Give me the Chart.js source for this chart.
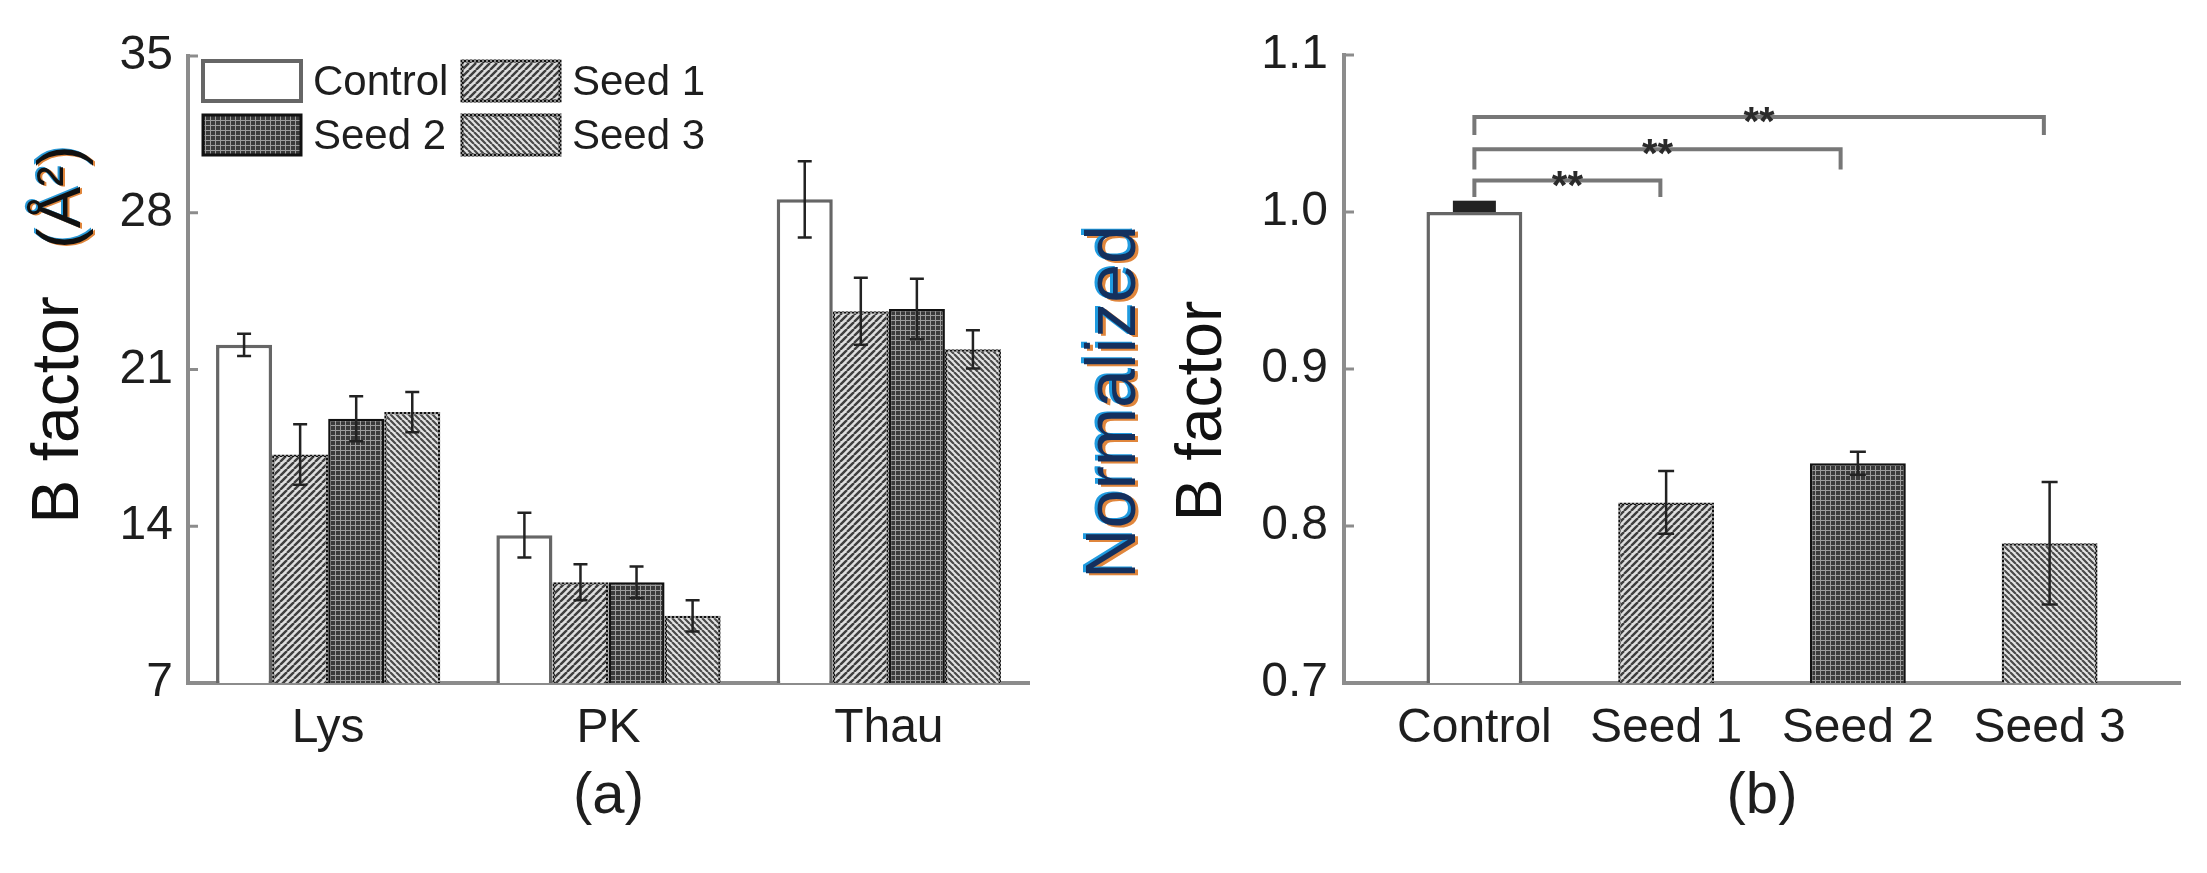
<!DOCTYPE html>
<html>
<head>
<meta charset="utf-8">
<title>B factor</title>
<script src="https://cdn.jsdelivr.net/npm/chart.js@4.4.1/dist/chart.umd.min.js"></script>
<style>
  html, body { margin: 0; padding: 0; background: #fff; }
  #wrap { position: relative; width: 2207px; height: 873px; overflow: hidden; }
  canvas { position: absolute; top: 0; }
</style>
</head>
<body>
<div id="wrap">
  <canvas id="chartA" width="1100" height="873" style="left:0px"></canvas>
  <canvas id="chartB" width="1157" height="873" style="left:1050px"></canvas>
</div>
<script>
// ---- data (a) ----
const proteins = ["Lys", "PK", "Thau"];
const groups = ["Control", "Seed 1", "Seed 2", "Seed 3"];
const controlB = [22.1, 13.6, 28.6];
const controlErr = [0.5, 1.0, 1.7];
const seed1B = [17.2, 11.5, 23.6];
const seed1Err = [1.35, 0.8, 1.5];
const seed2B = [18.8, 11.5, 23.7];
const seed2Err = [1.0, 0.7, 1.35];
const seed3B = [19.1, 10.0, 21.9];
const seed3Err = [0.9, 0.7, 0.85];
const ticksA = [7, 14, 21, 28, 35];

// ---- data (b) ----
const normB = [1.0, 0.815, 0.84, 0.789];
const normErr = [0.0036, 0.02, 0.0073, 0.039];
const ticksB = [0.7, 0.8, 0.9, 1.0, 1.1];
// significance brackets (group positions and heights)
const sigFrom = [0, 0, 0];
const sigTo = [0.97, 1.91, 2.97];
const sigTop = [1.020, 1.040, 1.0605];
const sigLeg = [1.0095, 1.027, 1.049];
const sigText = ["**", "**", "**"];

const FONT = "'Liberation Sans', Arial, Helvetica, sans-serif";
Chart.defaults.font.family = FONT;
Chart.defaults.color = "#1e1e1e";

// ---- fill patterns ----
function makeTile(size, paint) {
  const c = document.createElement("canvas");
  c.width = c.height = size;
  paint(c.getContext("2d"), size);
  return c;
}
function hatch(ctx, dir, bg, fg, size, lw) {
  const tile = makeTile(size, (g, s) => {
    g.fillStyle = bg; g.fillRect(0, 0, s, s);
    g.strokeStyle = fg; g.lineWidth = lw;
    g.beginPath();
    for (let k = -1; k <= 1; k++) {
      if (dir > 0) { g.moveTo(k * s, s); g.lineTo(k * s + s, 0); }
      else { g.moveTo(k * s, 0); g.lineTo(k * s + s, s); }
    }
    g.stroke();
  });
  return ctx.createPattern(tile, "repeat");
}
function gridFill(ctx, bg, fg, size) {
  const tile = makeTile(size, (g, s) => {
    g.fillStyle = bg; g.fillRect(0, 0, s, s);
    g.fillStyle = fg; g.fillRect(0, 0, s, 1); g.fillRect(0, 0, 1, s);
  });
  return ctx.createPattern(tile, "repeat");
}
function dotted(ctx) {
  const tile = makeTile(4, (g) => {
    g.fillStyle = "#8a8a8a"; g.fillRect(0, 0, 4, 4);
    g.fillStyle = "#111"; g.fillRect(0, 0, 2, 2); g.fillRect(2, 2, 2, 2);
  });
  return ctx.createPattern(tile, "repeat");
}
function styles(ctx) {
  return {
    bg: ["#ffffff",
         hatch(ctx, 1, "#dedede", "#3e3e3e", 7, 2.4),
         gridFill(ctx, "#3a3a3a", "#9c9c9c", 5),
         hatch(ctx, -1, "#e4e4e4", "#4a4a4a", 6, 2.2)],
    border: ["#666666", dotted(ctx), "#111111", dotted(ctx)],
    width: [3.5, 2.5, 2.5, 2.5]
  };
}

// ---- plugins ----
const errorBars = {
  id: "errorBars",
  afterDatasetsDraw(chart, args, o) {
    const ctx = chart.ctx, y = chart.scales.y;
    ctx.save();
    ctx.strokeStyle = o.color; ctx.fillStyle = o.color; ctx.lineWidth = o.lineWidth;
    chart.data.datasets.forEach((ds, i) => {
      chart.getDatasetMeta(i).data.forEach((bar, j) => {
        const raw = ds.data[j];
        const v = typeof raw === "object" ? raw.y : raw;
        const e = ds.errors[j];
        const yt = y.getPixelForValue(v + e), yb = y.getPixelForValue(v - e), yv = y.getPixelForValue(v);
        if (yb - yt < 16) {
          // caps merge into a solid block sitting on the bar
          const h = yb - yt;
          ctx.fillRect(bar.x - o.wideCap / 2, yv - h, o.wideCap, h);
          return;
        }
        const h = o.cap / 2;
        ctx.beginPath();
        ctx.moveTo(bar.x, yt); ctx.lineTo(bar.x, yb);
        ctx.moveTo(bar.x - h, yt); ctx.lineTo(bar.x + h, yt);
        ctx.moveTo(bar.x - h, yb); ctx.lineTo(bar.x + h, yb);
        ctx.stroke();
      });
    });
    ctx.restore();
  }
};

const innerTicks = {
  id: "innerTicks",
  afterDraw(chart, args, o) {
    const {ctx, chartArea} = chart, y = chart.scales.y;
    ctx.save();
    ctx.strokeStyle = o.color; ctx.lineWidth = o.width;
    y.ticks.forEach(t => {
      const py = y.getPixelForValue(t.value);
      if (Math.abs(py - chartArea.bottom) < 2) return;
      ctx.beginPath(); ctx.moveTo(chartArea.left, py); ctx.lineTo(chartArea.left + o.length, py); ctx.stroke();
    });
    ctx.restore();
  }
};

const sideTitles = {
  id: "sideTitles",
  afterDraw(chart, args, o) {
    const ctx = chart.ctx;
    o.items.forEach(it => {
      ctx.save();
      ctx.translate(it.x, it.y);
      ctx.rotate(-Math.PI / 2);
      ctx.font = it.font;
      ctx.textAlign = "center"; ctx.textBaseline = "middle";
      (it.fringe || []).forEach(f => {
        ctx.fillStyle = f.color;
        // offsets given in page space; rotated frame swaps axes
        ctx.fillText(it.text, -f.dy, f.dx);
      });
      ctx.fillStyle = it.color;
      ctx.fillText(it.text, 0, 0);
      ctx.restore();
    });
  }
};

const boxLegend = {
  id: "boxLegend",
  afterDraw(chart, args, o) {
    const {ctx, chartArea} = chart;
    ctx.save();
    chart.data.datasets.forEach((ds, i) => {
      const col = i % 2, row = Math.floor(i / 2);
      const bx = chartArea.left + o.x + col * o.colW;
      const by = chartArea.top + o.y + row * o.rowH;
      ctx.fillStyle = ds.backgroundColor;
      ctx.fillRect(bx, by, o.boxW, o.boxH);
      ctx.strokeStyle = ds.borderColor; ctx.lineWidth = ds.borderWidth + 0.5;
      ctx.strokeRect(bx, by, o.boxW, o.boxH);
      ctx.fillStyle = "#1e1e1e";
      ctx.font = o.font;
      ctx.textAlign = "left"; ctx.textBaseline = "middle";
      ctx.fillText(ds.label, bx + o.boxW + o.gap, by + o.boxH / 2 + 2);
    });
    ctx.restore();
  }
};

const sigBrackets = {
  id: "sigBrackets",
  afterDraw(chart, args, o) {
    const {ctx} = chart, x = chart.scales.x, y = chart.scales.y;
    ctx.save();
    sigTop.forEach((t, i) => {
      const x0 = x.getPixelForValue(sigFrom[i]), x1 = x.getPixelForValue(sigTo[i]);
      const yt = y.getPixelForValue(t), yl = y.getPixelForValue(sigLeg[i]);
      ctx.strokeStyle = o.color; ctx.lineWidth = o.lineWidth;
      ctx.beginPath();
      ctx.moveTo(x0, yl); ctx.lineTo(x0, yt); ctx.lineTo(x1, yt); ctx.lineTo(x1, yl);
      ctx.stroke();
      ctx.fillStyle = "#2a2a2a";
      ctx.font = o.font;
      ctx.textAlign = "center"; ctx.textBaseline = "alphabetic";
      ctx.fillText(sigText[i], (x0 + x1) / 2, yt + o.starDrop);
    });
    ctx.restore();
  }
};

const axisBorder = { display: true, color: "#8c8c8c", width: 4 };

// ---- chart (a) ----
const ctxA = document.getElementById("chartA").getContext("2d");
const stA = styles(ctxA);
const seriesA = [controlB, seed1B, seed2B, seed3B];
const errA = [controlErr, seed1Err, seed2Err, seed3Err];

new Chart(ctxA, {
  type: "bar",
  data: {
    labels: proteins,
    datasets: groups.map((g, i) => ({
      label: g,
      data: seriesA[i],
      errors: errA[i],
      backgroundColor: stA.bg[i],
      borderColor: stA.border[i],
      borderWidth: stA.width[i],
      categoryPercentage: 0.8,
      barPercentage: 1.0
    }))
  },
  options: {
    responsive: false,
    animation: false,
    devicePixelRatio: 1,
    layout: { padding: { left: 0, right: 71, top: 56, bottom: 0 } },
    scales: {
      x: {
        z: 1,
        grid: { display: false, drawTicks: false },
        border: axisBorder,
        ticks: { font: { size: 48 }, padding: 17, maxRotation: 0 },
        title: { display: true, text: "(a)", font: { size: 58 }, padding: { top: 0, bottom: 41 } },
        afterFit(s) { s.height = 190; }
      },
      y: {
        min: 7, max: 35,
        afterBuildTicks(s) { s.ticks = ticksA.map(v => ({ value: v })); },
        grid: { display: false, drawTicks: false },
        border: axisBorder,
        ticks: { font: { size: 48 }, padding: 15 },
        afterFit(s) { s.width = 188; }
      }
    },
    plugins: {
      legend: { display: false },
      tooltip: { enabled: false },
      errorBars: { color: "#222", lineWidth: 2.5, cap: 14, wideCap: 30 },
      innerTicks: { color: "#8c8c8c", width: 3, length: 10 },
      boxLegend: { x: 15, y: 5, colW: 259, rowH: 54, boxW: 98, boxH: 40, gap: 12, font: "42px " + FONT },
      sideTitles: { items: [
        { text: "B factor", x: 60, y: 410, font: "66px " + FONT, color: "#111" },
        { text: "(\u00C5\u00B2)", x: 63, y: 197, font: "62px " + FONT, color: "#111",
          fringe: [{ color: "#e0863c", dx: 2, dy: 1 }, { color: "#2a9ad8", dx: -2, dy: -1 }] }
      ] }
    }
  },
  plugins: [errorBars, innerTicks, boxLegend, sideTitles]
});

// ---- chart (b) ----
const ctxB = document.getElementById("chartB").getContext("2d");
const stB = styles(ctxB);

new Chart(ctxB, {
  type: "bar",
  data: {
    datasets: [{
      label: "Normalized B factor",
      data: normB.map((v, i) => ({ x: i, y: v })),
      errors: normErr,
      backgroundColor: stB.bg,
      borderColor: stB.border,
      borderWidth: stB.width,
      categoryPercentage: 1.0,
      barPercentage: 0.5
    }]
  },
  options: {
    responsive: false,
    animation: false,
    devicePixelRatio: 1,
    layout: { padding: { left: 0, right: 27, top: 55, bottom: 0 } },
    scales: {
      x: {
        type: "linear",
        offset: false,
        z: 1,
        min: -0.68, max: 3.68,
        afterBuildTicks(s) { s.ticks = groups.map((g, i) => ({ value: i })); },
        grid: { display: false, drawTicks: false },
        border: axisBorder,
        ticks: { font: { size: 48 }, padding: 17, maxRotation: 0, autoSkip: false,
                 callback: (v) => groups[v] },
        title: { display: true, text: "(b)", font: { size: 58 }, padding: { top: 0, bottom: 41 } },
        afterFit(s) { s.height = 190; }
      },
      y: {
        min: 0.7, max: 1.1,
        afterBuildTicks(s) { s.ticks = ticksB.map(v => ({ value: v })); },
        grid: { display: false, drawTicks: false },
        border: axisBorder,
        ticks: { font: { size: 48 }, padding: 16, callback: (v) => Number(v).toFixed(1) },
        afterFit(s) { s.width = 294; }
      }
    },
    plugins: {
      legend: { display: false },
      tooltip: { enabled: false },
      errorBars: { color: "#222", lineWidth: 2.5, cap: 16, wideCap: 43 },
      innerTicks: { color: "#8c8c8c", width: 3, length: 10 },
      sigBrackets: { color: "#777777", lineWidth: 4, font: "bold 40px " + FONT, starDrop: 18 },
      sideTitles: { items: [
        { text: "Normalized", x: 66, y: 402, font: "70px " + FONT, color: "#14305e",
          fringe: [{ color: "#e0863c", dx: 3, dy: 2 }, { color: "#1f9be0", dx: -3, dy: -1 }] },
        { text: "B factor", x: 153, y: 411, font: "64px " + FONT, color: "#111" }
      ] }
    }
  },
  plugins: [errorBars, innerTicks, sigBrackets, sideTitles]
});
</script>
</body>
</html>
